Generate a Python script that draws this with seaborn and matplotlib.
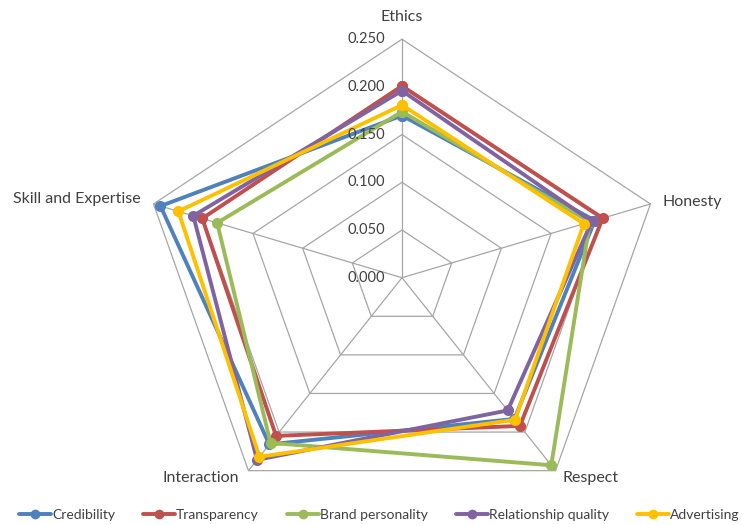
import numpy as np
import pandas as pd
import matplotlib
matplotlib.use("Agg")
import matplotlib.pyplot as plt
from matplotlib.lines import Line2D
import seaborn as sns

# Radar chart data
categories = ["Ethics", "Honesty", "Respect", "Interaction", "Skill and Expertise"]
series_names = ["Credibility", "Transparency", "Brand personality",
                "Relationship quality", "Advertising"]
credibility = [0.170, 0.194, 0.183, 0.216, 0.243]
transparency = [0.201, 0.202, 0.192, 0.205, 0.201]
brand_personality = [0.174, 0.189, 0.243, 0.214, 0.186]
relationship_quality = [0.196, 0.191, 0.172, 0.236, 0.210]
advertising = [0.181, 0.183, 0.184, 0.232, 0.225]
tick_values = [0.000, 0.050, 0.100, 0.150, 0.200, 0.250]
tick_labels = ["0.000", "0.050", "0.100", "0.150", "0.200", "0.250"]
colors = ["#4F81BD", "#C0504D", "#9BBB59", "#8064A2", "#FFC000"]

series_values = [credibility, transparency, brand_personality,
                 relationship_quality, advertising]

sns.set_theme(style="white")
plt.rcParams["font.family"] = ["Lato", "DejaVu Sans"]
text_color = "#404040"

n = len(categories)
angles = np.arange(n) * 2 * np.pi / n

# long table with the first point repeated to close each polygon
rows = []
for name, vals in zip(series_names, series_values):
    for k in range(n + 1):
        i = k % n
        rows.append({"series": name, "order": k, "category": categories[i],
                     "value": vals[i],
                     "x": vals[i] * np.sin(angles[i]),
                     "y": vals[i] * np.cos(angles[i])})
df = pd.DataFrame(rows)

fig = plt.figure(figsize=(7.42, 5.25), dpi=100)
ax = fig.add_axes([0, 0, 1, 1])

# pixel scale of the radar (slightly wider than tall)
kx, ky = 1045.0, 954.0
cx, cy = 402.0, 277.7
W, H = 742.0, 525.0
ax.set_xlim(-cx / kx, (W - cx) / kx)
ax.set_ylim(-(H - cy) / ky, cy / ky)
ax.set_aspect("auto")
ax.axis("off")

grid_color = "#A6A6A6"
rmax = tick_values[-1]
for r in tick_values[1:]:
    gx = [r * np.sin(angles[k % n]) for k in range(n + 1)]
    gy = [r * np.cos(angles[k % n]) for k in range(n + 1)]
    ax.plot(gx, gy, color=grid_color, lw=0.9, zorder=0)
for a in angles:
    ax.plot([0, rmax * np.sin(a)], [0, rmax * np.cos(a)],
            color=grid_color, lw=0.9, zorder=0)

sns.lineplot(data=df, x="x", y="y", hue="series", hue_order=series_names,
             palette=colors, sort=False, estimator=None, marker="o",
             markersize=8, markeredgewidth=0, linewidth=2.8,
             legend=False, ax=ax)

# radial tick labels
for v, lab in zip(tick_values, tick_labels):
    ax.annotate(lab, xy=(0, v), xytext=(-17 * 0.72, 0),
                textcoords="offset points", ha="right", va="center",
                fontsize=10.5, color=text_color)

# category labels around the outer ring
label_offsets = [((0, 22), "center"), ((12, 2), "left"),
                 ((35.4, -7), "center"), ((-47.4, -7), "center"),
                 ((-12.5, 5), "right")]
for cat, a, (off, ha) in zip(categories, angles, label_offsets):
    ax.annotate(cat, xy=(rmax * np.sin(a), rmax * np.cos(a)),
                xytext=(off[0] * 0.72, off[1] * 0.72),
                textcoords="offset points", ha=ha, va="center",
                fontsize=11.5, color=text_color)

handles = [Line2D([], [], color=c, lw=2.8, marker="o", markersize=7,
                  markeredgewidth=0) for c in colors]
fig.legend(handles, series_names, loc="center", bbox_to_anchor=(0.511, 0.019),
           ncol=5, frameon=False, fontsize=10, handlelength=2.3,
           handletextpad=0.1, columnspacing=2.0, labelcolor=text_color)

fig.savefig("out.png", dpi=100)
